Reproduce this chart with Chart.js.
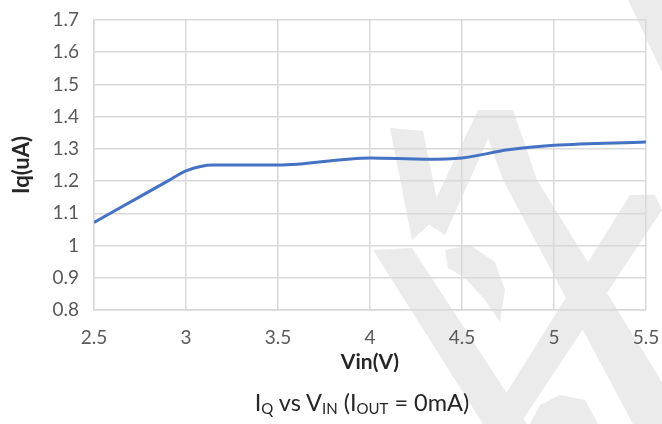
<!DOCTYPE html>
<html>
<head>
<meta charset="utf-8">
<script src="https://cdn.jsdelivr.net/npm/chart.js@4.4.0/dist/chart.umd.min.js"></script>
<style>
  html, body { margin: 0; padding: 0; background: #fff; }
  #wrap { position: relative; width: 662px; height: 424px; }
  #caption {
    position: absolute; left: 0; width: 724px; top: 388px; text-align: center;
    font-family: Lato, "Noto Sans", sans-serif; font-size: 23.5px; color: #262626;
    line-height: 28px;
  }
  #caption sub { font-size: 15px; vertical-align: -3px; line-height: 0; }
</style>
</head>
<body>
<div id="wrap">
  <canvas id="chart" width="662" height="424"></canvas>
  <div id="caption">I<sub>Q</sub> vs V<sub>IN</sub> (I<sub>OUT</sub> = 0mA)</div>
</div>
<script>
// valeurs
const vin = [2.5, 2.75, 2.9, 3.0, 3.15, 3.5, 4.0, 4.3, 4.5, 4.75, 5.0, 5.5];
const iq  = [1.072, 1.152, 1.2, 1.232, 1.25, 1.25, 1.272, 1.268, 1.272, 1.297, 1.311, 1.321];

const xTicks = [2.5, 3, 3.5, 4, 4.5, 5, 5.5];
const yTicks = [0.8, 0.9, 1.0, 1.1, 1.2, 1.3, 1.4, 1.5, 1.6, 1.7];

const fmt = v => String(Number(v.toFixed(1)));

// filigrane gris en fond
const watermark = {
  id: 'watermark',
  beforeDraw(chart) {
    const ctx = chart.ctx;
    const shapes = [
      [[628, 0], [662, 0], [662, 72]],
      [[478, 110], [513, 110], [537, 180], [662, 382], [662, 424], [633, 424], [503, 180]],
      [[390, 128], [423, 131], [440, 215], [412, 240]],
      [[478, 110], [500, 112], [445, 235], [425, 222]],
      [[373, 250], [412, 248], [527, 424], [483, 424]],
      [[630, 195], [655, 195], [662, 210], [520, 424], [487, 424]],
      [[445, 250], [470, 245], [495, 262], [505, 290], [500, 322], [485, 300], [465, 278], [448, 268]],
      [[530, 424], [540, 405], [560, 395], [585, 400], [598, 424]]
    ];
    ctx.save();
    ctx.fillStyle = '#ebebeb';
    shapes.forEach(s => {
      ctx.beginPath();
      s.forEach(([x, y], i) => i ? ctx.lineTo(x, y) : ctx.moveTo(x, y));
      ctx.closePath();
      ctx.fill();
    });
    ctx.restore();
  }
};

new Chart(document.getElementById('chart'), {
  type: 'line',
  data: {
    datasets: [{
      data: vin.map((v, i) => ({ x: v, y: iq[i] })),
      borderColor: '#4472c4',
      borderWidth: 3,
      pointRadius: 0,
      cubicInterpolationMode: 'monotone',
      fill: false
    }]
  },
  options: {
    responsive: false,
    animation: false,
    layout: { padding: { top: 20, right: 16, left: 0, bottom: 0 } },
    plugins: { legend: { display: false }, tooltip: { enabled: false } },
    scales: {
      x: {
        type: 'linear',
        min: 2.5, max: 5.5,
        afterBuildTicks: s => { s.ticks = xTicks.map(v => ({ value: v })); },
        afterFit: s => { s.height = 114; s.paddingLeft = 0; s.paddingRight = 0; },
        grid: { color: '#d9d9d9', lineWidth: 1.5, drawTicks: false },
        border: { color: '#d9d9d9', width: 1.5 },
        ticks: {
          color: '#595959', padding: 16, maxRotation: 0,
          font: { family: 'Lato', size: 19 },
          callback: v => fmt(v)
        },
        title: {
          display: true, text: 'Vin(V)', color: '#262626',
          font: { family: 'Lato', size: 21, weight: 'bold' },
          padding: { top: 0, bottom: 49 }
        }
      },
      y: {
        min: 0.8, max: 1.7,
        afterBuildTicks: s => { s.ticks = yTicks.map(v => ({ value: v })); },
        afterFit: s => { s.width = 94; s.paddingTop = 0; s.paddingBottom = 0; },
        grid: { color: '#d9d9d9', lineWidth: 1.5, drawTicks: false },
        border: { color: '#d9d9d9', width: 1.5 },
        ticks: {
          color: '#595959', padding: 15,
          font: { family: 'Lato', size: 19 },
          callback: v => fmt(v)
        },
        title: {
          display: true, text: 'Iq(uA)', color: '#262626',
          font: { family: 'Lato', size: 22, weight: 'bold' },
          padding: { top: 9, bottom: 0 }
        }
      }
    }
  },
  plugins: [watermark]
});
</script>
</body>
</html>
